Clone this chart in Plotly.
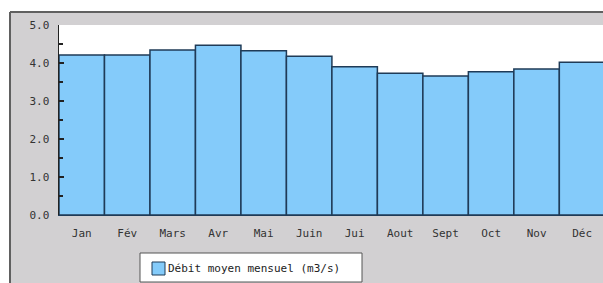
import plotly.graph_objects as go

months = ["Jan", "Fév", "Mars", "Avr", "Mai", "Juin", "Jui", "Aout", "Sept", "Oct", "Nov", "Déc"]
debit = [4.21, 4.21, 4.34, 4.47, 4.32, 4.18, 3.90, 3.73, 3.66, 3.77, 3.84, 4.02]
series_name = "Débit moyen mensuel (m3/s)"
bar_color = "#84CBFA"
edge_color = "#1F3B57"

W, H = 603, 283
L, R, T, B = 59, 0, 25, 68
pw, ph = W - L - R, H - T - B

def px2x(px):
    return (px - L) / pw

def py2y(py):
    return (H - B - py) / ph

fig = go.Figure(go.Bar(
    x=list(range(len(months))), y=debit, name=series_name,
    marker=dict(color=bar_color, line=dict(color=edge_color, width=1.5)),
    width=1.0, showlegend=False, hoverinfo="skip",
))

mono = "DejaVu Sans Mono"
fs = 11
shapes = [
    dict(type="rect", xref="paper", yref="paper", x0=px2x(-5), x1=px2x(610), y0=py2y(12), y1=py2y(-5),
         fillcolor="white", line=dict(width=0), layer="above"),
    dict(type="rect", xref="paper", yref="paper", x0=px2x(-5), x1=px2x(10), y0=py2y(290), y1=py2y(12),
         fillcolor="white", line=dict(width=0), layer="above"),
    dict(type="line", xref="paper", yref="paper", x0=px2x(10), x1=px2x(610), y0=py2y(12), y1=py2y(12),
         line=dict(color="#606060", width=2), layer="above"),
    dict(type="line", xref="paper", yref="paper", x0=px2x(10), x1=px2x(10), y0=py2y(12), y1=py2y(290),
         line=dict(color="#606060", width=2), layer="above"),
    # legend box
    dict(type="rect", xref="paper", yref="paper", x0=px2x(140), x1=px2x(362), y0=py2y(282), y1=py2y(253),
         fillcolor="white", line=dict(color="#555555", width=1), layer="above"),
    dict(type="rect", xref="paper", yref="paper", x0=px2x(152), x1=px2x(165), y0=py2y(275), y1=py2y(262),
         fillcolor=bar_color, line=dict(color=edge_color, width=1), layer="above"),
]

annotations = [
    dict(text=series_name, xref="paper", yref="paper", x=px2x(166), y=py2y(268.5), xanchor="left",
         yanchor="middle", showarrow=False, font=dict(family=mono, size=fs, color="#222222")),
]

fig.update_layout(
    width=W, height=H, margin=dict(l=L, r=R, t=T, b=B),
    paper_bgcolor="#D2D0D2", plot_bgcolor="white",
    font=dict(family=mono, size=fs, color="#333333"),
    bargap=0, showlegend=False, hovermode=False,
    shapes=shapes, annotations=annotations,
    xaxis=dict(tickmode="array", tickvals=list(range(len(months))), ticktext=months,
               range=[-0.5, 11.46], showgrid=False, zeroline=False, showline=True,
               linecolor=edge_color, linewidth=1, ticks="", ticklabelstandoff=8,
               tickfont=dict(family=mono, size=fs, color="#333333")),
    yaxis=dict(range=[0, 5], tickvals=[0, 1, 2, 3, 4, 5], tickformat=".1f", showgrid=False, zeroline=False,
               showline=True, linecolor="#222222", linewidth=1.5, ticks="inside", ticklen=5,
               tickcolor="#222222", tickwidth=1.5, ticklabelstandoff=6,
               minor=dict(ticks="inside", dtick=0.5, ticklen=4, tickcolor="#222222", tickwidth=1.5),
               tickfont=dict(family=mono, size=fs, color="#333333")),
)

fig.write_html("out.html", config={"displayModeBar": False, "staticPlot": True},
               post_script="document.body.style.margin='0';")
